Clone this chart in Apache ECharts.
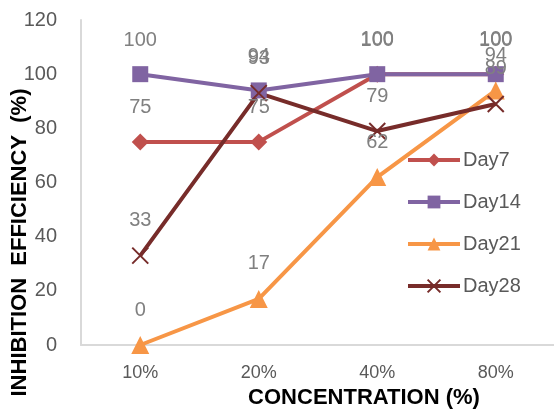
<!DOCTYPE html>
<html><head><meta charset="utf-8">
<script src="https://cdn.jsdelivr.net/npm/echarts@6/dist/echarts.min.js"></script>
<style>html,body{margin:0;padding:0;background:#fff}#c{width:554px;height:410px}</style>
</head><body><div id="c"></div>
<script>
const categories = ['10%', '20%', '40%', '80%'];
const day7 = [75, 75, 100, 100];
const day14 = [100, 94, 100, 100];
const day21 = [0, 17, 62, 94];
const day28 = [33, 93, 79, 89];
const yTicks = { min: 0, max: 120, interval: 20 };

const chart = echarts.init(document.getElementById('c'), null, { renderer: 'canvas' });
const font = 'Liberation Sans';
const lbl = { show: true, position: 'top', distance: 16, color: '#808080', fontSize: 20, fontFamily: font };
function mk(name, data, color, symbol, size, extra) {
  return Object.assign({
    name, type: 'line', data, symbol, symbolSize: size,
    lineStyle: { color, width: 4 },
    itemStyle: { color },
    label: lbl,
    z: 2
  }, extra || {});
}
chart.setOption({
  animation: false,
  grid: { left: 81, right: -1, top: 20, bottom: 65, containLabel: false, outerBoundsMode: 'none' },
  legend: {
    orient: 'vertical', left: 401, top: 145, itemWidth: 52, itemHeight: 16, itemGap: 22,
    lineStyle: { width: 4 },
    textStyle: { color: '#595959', fontSize: 20, fontFamily: font, padding: [0, 0, 0, -2] },
    data: ['Day7', 'Day14', 'Day21', 'Day28']
  },
  xAxis: {
    type: 'category', data: categories, boundaryGap: true,
    axisLine: { lineStyle: { color: '#d9d9d9', width: 2 } },
    axisTick: { show: false },
    axisLabel: { color: '#595959', fontSize: 18, fontFamily: font, margin: 19 },
    name: 'CONCENTRATION (%)', nameLocation: 'middle', nameGap: 42, nameMoveOverlap: false,
    nameTextStyle: { color: '#000', fontWeight: 'bold', fontSize: 22, fontFamily: font, padding: [0, 0, 0, 92] }
  },
  yAxis: {
    type: 'value', min: yTicks.min, max: yTicks.max, interval: yTicks.interval,
    axisLine: { show: true, lineStyle: { color: '#d9d9d9', width: 2 } },
    axisTick: { show: false }, splitLine: { show: false },
    axisLabel: { color: '#595959', fontSize: 20, fontFamily: font, margin: 24 },
    name: 'INHIBITION  EFFICIENCY  (%)', nameLocation: 'middle', nameGap: 50, nameMoveOverlap: false,
    nameTextStyle: { color: '#000', fontWeight: 'bold', fontSize: 22, fontFamily: font, padding: [0, 120, 0, 0] }
  },
  series: [
    mk('Day7', day7, '#C0504D', 'diamond', 17),
    mk('Day14', day14, '#8064A2', 'rect', 16),
    mk('Day21', day21, '#F79646', 'triangle', 18),
    mk('Day28', day28, '#772C2A', 'path://M0,0 L10,10 M10,0 L0,10', 16, {
      itemStyle: { color: 'rgba(0,0,0,0)', borderColor: '#772C2A', borderWidth: 2 }
    })
  ]
});
</script></body></html>
